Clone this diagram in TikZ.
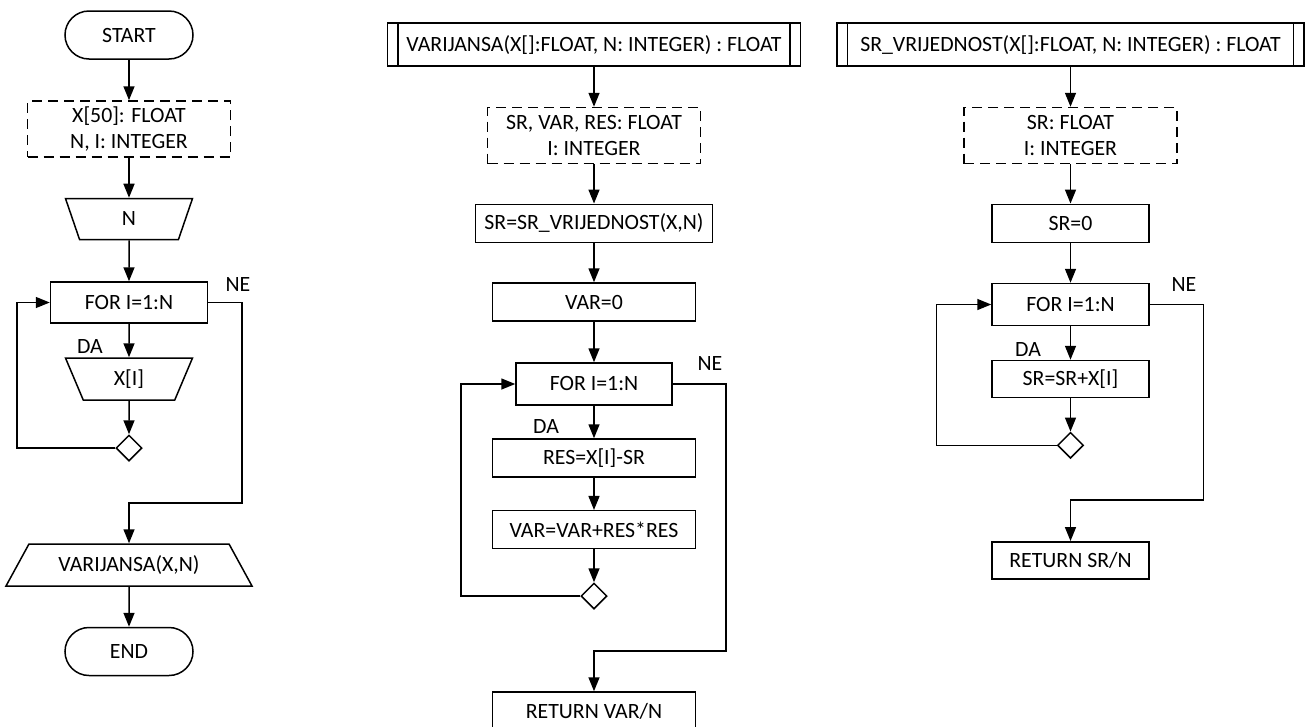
\documentclass[tikz,border=0pt]{standalone}
\usepackage{fontspec}
\setmainfont{Carlito}
\usetikzlibrary{shapes.geometric,arrows.meta}

\begin{document}
\begin{tikzpicture}[x=1pt,y=-1pt,line width=1.5pt,font=\fontsize{21.8}{26}\selectfont,
  box/.style = {rectangle,draw,minimum height=38pt,inner sep=2pt},
  term/.style = {box,rounded corners=24pt,minimum width=128pt,minimum height=48pt},
  decl/.style = {box,dash pattern=on 10pt off 6pt,align=center,minimum height=56pt},
  inp/.style = {trapezium,draw,trapezium left angle=52,trapezium right angle=52,trapezium stretches body,shape border rotate=180,minimum width=127pt,minimum height=41pt,inner sep=2pt},
  outp/.style = {trapezium,draw,trapezium left angle=45,trapezium right angle=45,trapezium stretches body,minimum width=246pt,minimum height=42pt,inner sep=2pt},
  head/.style = {box,minimum height=43pt,
    path picture={\draw ([xshift=10.5pt]path picture bounding box.north west) -- ([xshift=10.5pt]path picture bounding box.south west);
                  \draw ([xshift=-10.5pt]path picture bounding box.north east) -- ([xshift=-10.5pt]path picture bounding box.south east);}},
  loopend/.style = {diamond,draw,minimum size=26pt,inner sep=0pt},
  lbl/.style = {inner sep=0pt},
  flow/.style = {-{Triangle[length=14pt,width=11pt]}},
]
\useasboundingbox (0,0) rectangle (1306,726);

% main program
\node[term] (st) at (129,35) {START};
\node[decl, minimum width=203pt] (dv1) at (129,129) {X[50]: FLOAT\\N, I: INTEGER};
\node[inp] (in1) at (129,219) {N};
\node[box, minimum width=157pt, minimum height=41pt] (f1) at (129,302.5) {FOR I=1:N};
\node[inp, minimum height=42pt] (in2) at (129,379) {X[I]};
\node[loopend] (d1) at (129,448) {};
\node[outp] (o1) at (129,565) {VARIJANSA(X,N)};
\node[term] (en) at (129,651.5) {END};
\node[lbl] (ne1) at (238,285) {NE};
\node[lbl] (da1) at (90,347) {DA};
\coordinate (l1) at (17,0);
\coordinate (j1) at (242,503);

\draw[flow] (st) -- (dv1);
\draw[flow] (dv1) -- (in1);
\draw[flow] (in1) -- (f1);
\draw[flow] (f1) -- (in2);
\draw[flow] (in2) -- (d1);
\draw[flow] (d1.west) -| (l1 |- f1.west) -- (f1.west);
\draw[flow] (f1.east) -| (j1) -| (o1.north);
\draw[flow] (o1) -- (en);

% VARIJANSA
\node[head, minimum width=413pt] (h1) at (594,44.7) {VARIJANSA(X[]:FLOAT, N: INTEGER) : FLOAT};
\node[decl, minimum width=213pt] (dv2) at (594,135.5) {SR, VAR, RES: FLOAT\\I: INTEGER};
\node[box, minimum width=237pt] (p1) at (594,223.3) {SR=SR\_VRIJEDNOST(X,N)};
\node[box, minimum width=203pt] (p2) at (594,302) {VAR=0};
\node[box, minimum width=156pt, minimum height=42pt] (f2) at (594,384) {FOR I=1:N};
\node[box, minimum width=203pt] (p3) at (594,458) {RES=X[I]-SR};
\node[box, minimum width=203pt] (p4) at (594,529.7) {VAR=VAR+RES*RES};
\node[loopend] (d2) at (594,596) {};
\node[box, minimum width=203pt] (r2) at (594,711) {RETURN VAR/N};
\node[lbl] (ne2) at (710,363) {NE};
\node[lbl] (da2) at (546,426) {DA};
\coordinate (l2) at (461,0);
\coordinate (j2) at (726,651);

\draw[flow] (h1) -- (dv2);
\draw[flow] (dv2) -- (p1);
\draw[flow] (p1) -- (p2);
\draw[flow] (p2) -- (f2);
\draw[flow] (f2) -- (p3);
\draw[flow] (p3) -- (p4);
\draw[flow] (p4) -- (d2);
\draw[flow] (d2.west) -| (l2 |- f2.west) -- (f2.west);
\draw[flow] (f2.east) -| (j2) -| (r2.north);

% SR_VRIJEDNOST
\node[head, minimum width=467pt] (h2) at (1070.5,44.7) {SR\_VRIJEDNOST(X[]:FLOAT, N: INTEGER) : FLOAT};
\node[decl, minimum width=213pt] (dv3) at (1070.5,135.5) {SR: FLOAT\\I: INTEGER};
\node[box, minimum width=157pt] (p5) at (1070.5,223.3) {SR=0};
\node[box, minimum width=157pt, minimum height=42pt] (f3) at (1070.5,304.5) {FOR I=1:N};
\node[box, minimum width=157pt, minimum height=37pt] (p6) at (1070.5,379) {SR=SR+X[I]};
\node[loopend] (d3) at (1070.5,445.3) {};
\node[box, minimum width=157pt, minimum height=37pt] (r3) at (1070.5,560.3) {RETURN SR/N};
\node[lbl] (ne3) at (1184,285) {NE};
\node[lbl] (da3) at (1028,350) {DA};
\coordinate (l3) at (936.7,0);
\coordinate (j3) at (1203.3,500);

\draw[flow] (h2) -- (dv3);
\draw[flow] (dv3) -- (p5);
\draw[flow] (p5) -- (f3);
\draw[flow] (f3) -- (p6);
\draw[flow] (p6) -- (d3);
\draw[flow] (d3.west) -| (l3 |- f3.west) -- (f3.west);
\draw[flow] (f3.east) -| (j3) -| (r3.north);

\end{tikzpicture}
\end{document}
